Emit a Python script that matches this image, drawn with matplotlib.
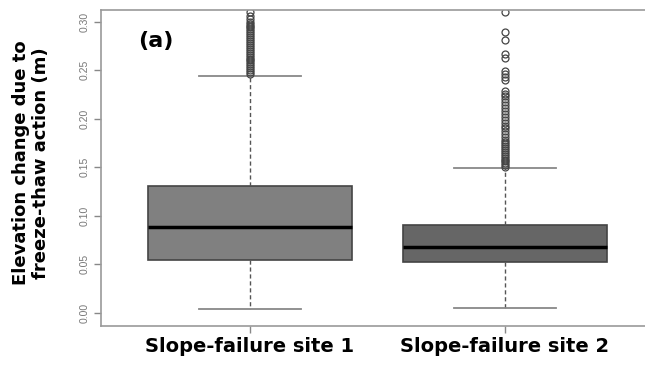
import matplotlib
matplotlib.use("Agg")
import matplotlib.pyplot as plt

# box statistics (m)
sites = ["Slope-failure site 1", "Slope-failure site 2"]
q1 = [0.055, 0.052]
med = [0.089, 0.068]
q3 = [0.131, 0.091]
wlo = [0.004, 0.005]
whi = [0.244, 0.149]
box_colors = ["#808080", "#666666"]

# outliers (dense clouds above the upper whisker)
fliers_1 = [0.246, 0.248, 0.250, 0.252, 0.254, 0.256, 0.258, 0.260, 0.262, 0.264,
            0.266, 0.268, 0.270, 0.272, 0.274, 0.276, 0.278, 0.280, 0.282, 0.284,
            0.286, 0.288, 0.290, 0.292, 0.294, 0.296, 0.298, 0.300, 0.303, 0.306, 0.310]
fliers_2 = [0.150, 0.152, 0.154, 0.156, 0.158, 0.160, 0.162, 0.164, 0.166, 0.168,
            0.170, 0.172, 0.174, 0.176, 0.178, 0.181, 0.184, 0.187, 0.190, 0.193,
            0.196, 0.199, 0.202, 0.205, 0.208, 0.211, 0.214, 0.217, 0.220, 0.223,
            0.226, 0.229, 0.240, 0.243, 0.246, 0.249, 0.263, 0.267, 0.281, 0.289, 0.310]

yticks = [0.00, 0.05, 0.10, 0.15, 0.20, 0.25, 0.30]

fig = plt.figure(figsize=(6.45, 3.67), dpi=100)
ax = fig.add_axes([101 / 645, 1 - 326 / 367, 1 - 101 / 645, (326 - 10) / 367])

stats = []
fl = [fliers_1, fliers_2]
for i in range(2):
    stats.append({"med": med[i], "q1": q1[i], "q3": q3[i],
                  "whislo": wlo[i], "whishi": whi[i], "fliers": fl[i], "label": sites[i]})

bp = ax.bxp(stats, positions=[1, 2], widths=0.8, patch_artist=True,
            boxprops=dict(edgecolor="#444444", linewidth=1.2),
            medianprops=dict(color="black", linewidth=2.5),
            whiskerprops=dict(color="#555555", linestyle=(0, (3, 2)), linewidth=1),
            capprops=dict(color="#888888", linewidth=1.3),
            capwidths=0.4,
            flierprops=dict(marker="o", markersize=5, markerfacecolor="none",
                            markeredgecolor="#444444", markeredgewidth=0.9))
for patch, c in zip(bp["boxes"], box_colors):
    patch.set_facecolor(c)

ax.set_xlim(0.416, 2.549)
ax.set_ylim(-0.0134, 0.312)
ax.set_yticks(yticks)
ax.set_yticklabels([f"{t:.2f}" for t in yticks], rotation=90, va="center",
                   fontsize=7.5, color="#777777", family="Liberation Sans")
ax.set_xticks([1, 2])
ax.set_xticklabels(sites, fontsize=14, fontweight="bold")
ax.tick_params(axis="both", color="#888888", length=5, width=1)
ax.tick_params(axis="x", pad=3)
ax.tick_params(axis="y", pad=3)

for s in ["left", "top", "bottom"]:
    ax.spines[s].set_color("#999999")
    ax.spines[s].set_linewidth(1.2)
ax.spines["right"].set_visible(False)

fig.text(31 / 645, 1 - 163 / 367, "Elevation change due to\nfreeze-thaw action (m)",
         fontsize=13, fontweight="bold", rotation=90, ha="center", va="center",
         multialignment="center", linespacing=1.2)
fig.text(156 / 645, 1 - 41 / 367, "(a)", fontsize=16, fontweight="bold",
         ha="center", va="center")

fig.savefig("out.png", dpi=100)
